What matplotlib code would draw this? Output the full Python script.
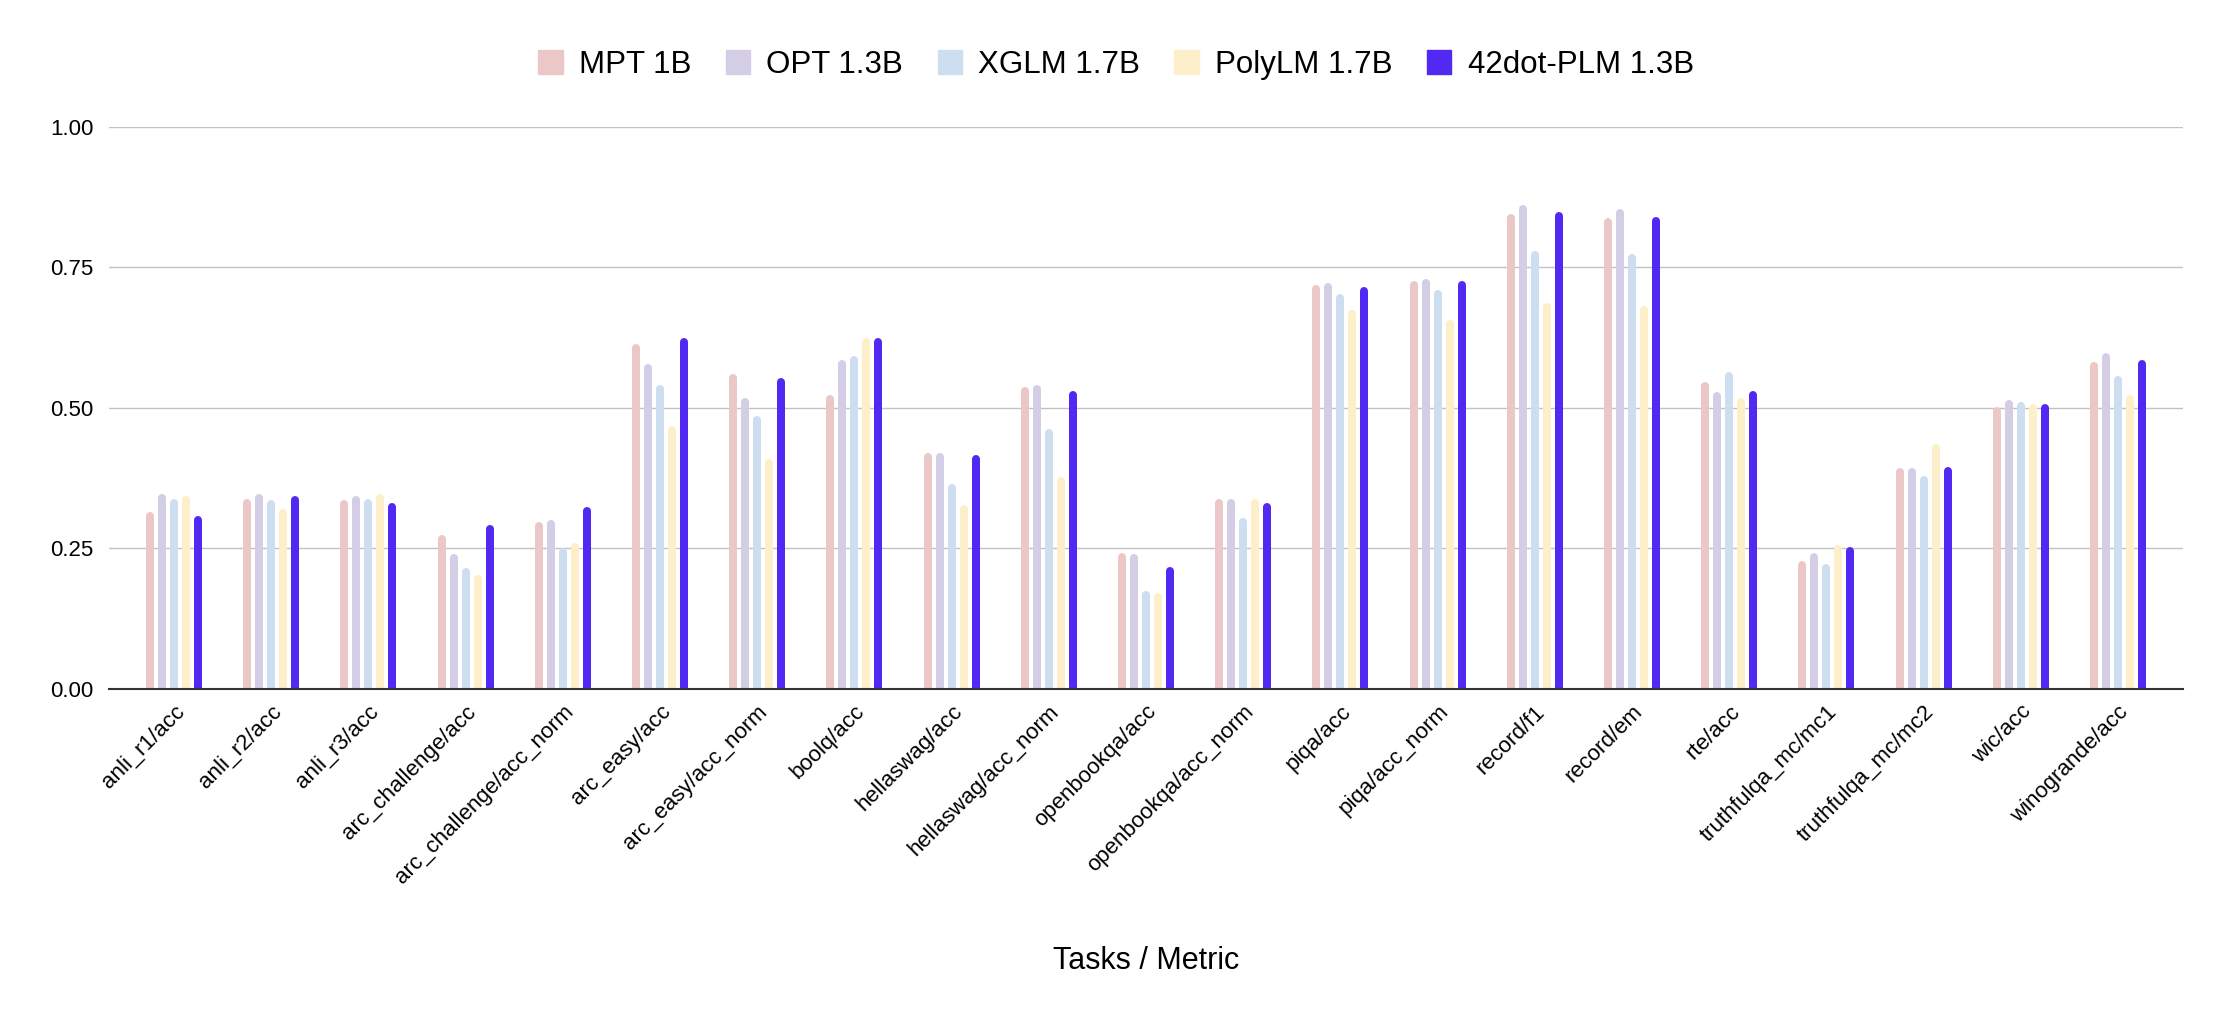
import matplotlib
matplotlib.use("Agg")
import matplotlib.pyplot as plt
import numpy as np

plt.rcParams["font.family"] = ["Liberation Sans", "DejaVu Sans"]

tasks = [
    "anli_r1/acc", "anli_r2/acc", "anli_r3/acc", "arc_challenge/acc",
    "arc_challenge/acc_norm", "arc_easy/acc", "arc_easy/acc_norm", "boolq/acc",
    "hellaswag/acc", "hellaswag/acc_norm", "openbookqa/acc", "openbookqa/acc_norm",
    "piqa/acc", "piqa/acc_norm", "record/f1", "record/em", "rte/acc",
    "truthfulqa_mc/mc1", "truthfulqa_mc/mc2", "wic/acc", "winogrande/acc",
]

models = ["MPT 1B", "OPT 1.3B", "XGLM 1.7B", "PolyLM 1.7B", "42dot-PLM 1.3B"]

mpt_1b = [0.307, 0.331, 0.328, 0.267, 0.289, 0.606, 0.552, 0.516, 0.413, 0.530, 0.234,
          0.331, 0.712, 0.719, 0.837, 0.830, 0.538, 0.221, 0.386, 0.495, 0.574]
opt_13b = [0.339, 0.339, 0.335, 0.232, 0.293, 0.571, 0.510, 0.578, 0.413, 0.534, 0.232,
           0.331, 0.715, 0.722, 0.854, 0.847, 0.520, 0.234, 0.386, 0.507, 0.591]
xglm_17b = [0.331, 0.328, 0.331, 0.207, 0.243, 0.534, 0.478, 0.584, 0.358, 0.455, 0.166,
            0.296, 0.695, 0.702, 0.772, 0.766, 0.556, 0.214, 0.371, 0.503, 0.549]
polylm_17b = [0.335, 0.313, 0.339, 0.196, 0.253, 0.460, 0.402, 0.617, 0.320, 0.369, 0.163,
              0.331, 0.666, 0.649, 0.680, 0.673, 0.510, 0.249, 0.428, 0.499, 0.516]
plm_13b = [0.300, 0.335, 0.324, 0.285, 0.317, 0.617, 0.545, 0.617, 0.409, 0.523, 0.210,
           0.324, 0.708, 0.719, 0.841, 0.832, 0.523, 0.245, 0.388, 0.499, 0.578]

colors = ["#ecc7c7", "#d4cde6", "#cddef0", "#fdefca", "#5229f3"]

fig = plt.figure(figsize=(22.32, 10.26), dpi=100)
ax = fig.add_axes([0.04884, 0.32875, 0.92921, 0.54776])

x = np.arange(len(tasks))
step = 0.1235
series = [mpt_1b, opt_13b, xglm_17b, polylm_17b, plm_13b]
for i, (name, vals, c) in enumerate(zip(models, series, colors)):
    # rounded tops like the original; the bottom cap gets clipped at y=0
    lc = ax.vlines(x + (i - 2) * step, 0, vals, colors=c, linewidth=5.76, label=name)
    lc.set_capstyle("round")

ax.set_xlim(-0.669, len(tasks) - 1 + 0.669)
ax.set_ylim(0, 1.0)
ax.set_yticks([0, 0.25, 0.5, 0.75, 1.0])
ax.set_yticklabels(["0.00", "0.25", "0.50", "0.75", "1.00"])
ax.yaxis.grid(True, color="#c2c2c2", linewidth=1.0)
ax.set_axisbelow(True)
for s in ["top", "right", "left"]:
    ax.spines[s].set_visible(False)
ax.spines["bottom"].set_color("#333333")
ax.spines["bottom"].set_linewidth(1.5)
ax.spines["bottom"].set_zorder(5)

ax.tick_params(axis="y", length=0, pad=11, labelsize=16)
ax.tick_params(axis="x", length=0, pad=9, labelsize=16)
ax.set_xticks(x)
ax.set_xticklabels(tasks, rotation=45, ha="right", rotation_mode="anchor")

ax.set_xlabel("Tasks / Metric", fontsize=22)
ax.xaxis.set_label_coords(0.5, -0.484)
ax.xaxis.label.set_va("center")

handles = [plt.Rectangle((0, 0), 1, 1, color=c) for c in colors]
fig.legend(handles, models, loc="center", bbox_to_anchor=(0.5, 0.937), ncol=5,
           frameon=False, fontsize=22.5, handlelength=0.78, handleheight=0.78,
           handletextpad=0.52, columnspacing=1.1)

fig.savefig("out.png", dpi=100, facecolor="white")
